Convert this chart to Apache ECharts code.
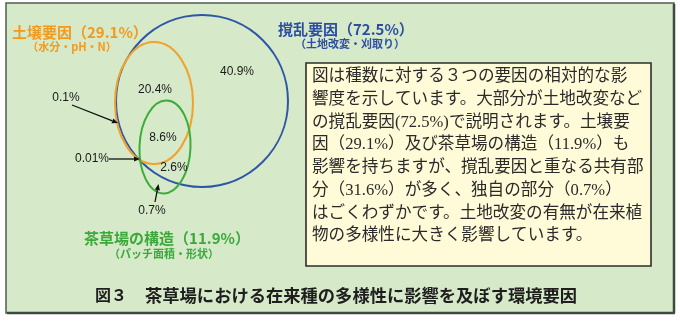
<!DOCTYPE html>
<html>
<head>
<meta charset="utf-8">
<script src="https://cdn.jsdelivr.net/npm/echarts@6/dist/echarts.min.js"></script>
<style>
html,body{margin:0;padding:0;background:#ffffff;}
#chart{width:680px;height:321px;}
</style>
</head>
<body>
<div id="chart"></div>
<script>
// ---- data ----
const factorNames = ['撹乱要因', '土壌要因', '茶草場の構造'];
const factorTotals = [72.5, 29.1, 11.9];
const factorDetails = ['土地改変・刈取り', '水分・pH・N', 'パッチ面積・形状'];
const regionNames = ['撹乱のみ', '撹乱∩土壌', '三要因共有', '撹乱∩構造', '土壌のみ', '土壌∩構造', '構造のみ'];
const regionValues = [40.9, 20.4, 8.6, 2.6, 0.1, 0.01, 0.7];
const noteLines = [
  '図は種数に対する３つの要因の相対的な影',
  '響度を示しています。大部分が土地改変など',
  'の撹乱要因(72.5%)で説明されます。土壌要',
  '因（29.1%）及び茶草場の構造（11.9%）も',
  '影響を持ちますが、撹乱要因と重なる共有部',
  '分（31.6%）が多く、独自の部分（0.7%）',
  'はごくわずかです。土地改変の有無が在来植',
  '物の多様性に大きく影響しています。'
];
const captionNumber = '図３';
const captionTitle = '茶草場における在来種の多様性に影響を及ぼす環境要因';

// ---- layout (positions / styles) ----
const setColors = ['#2e56a6', '#f2a12a', '#3dad3a'];
const setTextColors = ['#2b4fa3', '#f39a1c', '#3aa93a'];
const ellipseGeom = [
  {cx: 202, cy: 101, rx: 86, ry: 86, rot: 0},
  {cx: 154, cy: 103, rx: 39, ry: 61, rot: 0},
  {cx: 165, cy: 147, rx: 25.5, ry: 46.5, rot: -0.04}
];
const titlePos = [
  {x: 278, y: 29, sx: 350, sy: 44, align: 'left'},
  {x: 12, y: 32, sx: 72, sy: 47, align: 'left'},
  {x: 167, y: 238, sx: 164, sy: 254, align: 'center'}
];
const regionLabelPos = [[237, 72], [155, 90], [163, 138], [174, 168], [66, 98], [92, 159], [152, 211]];
const arrowPaths = [
  null, null, null, null,
  [72, 105, 118, 123],
  [109, 159, 140, 159],
  [155, 202, 158.5, 184]
];

const chart = echarts.init(document.getElementById('chart'), null, {renderer: 'canvas'});

function fmtPct(v) { return String(v) + '%'; }

const ellipseData = ellipseGeom.map((g, i) => ({name: factorNames[i], value: [g.cx, g.cy, g.rx, g.ry, g.rot, i]}));
const regionData = regionValues.map((v, i) => ({name: regionNames[i], value: [regionLabelPos[i][0], regionLabelPos[i][1], v]}));
const arrowData = [];
arrowPaths.forEach((a, i) => { if (a) arrowData.push({name: regionNames[i], value: a}); });
const titleData = factorNames.map((n, i) => ({name: n, value: [titlePos[i].x, titlePos[i].y, titlePos[i].sx, titlePos[i].sy, i]}));

const noteGraphics = noteLines.map((t, i) => ({
  type: 'text', z: 20,
  style: {
    text: t, x: 312, y: 77 + i * 22.7,
    fill: '#2a2a2a',
    font: '16.6px "Liberation Serif", "Noto Sans CJK JP", serif',
    textVerticalAlign: 'middle'
  }
}));

const option = {
  animation: false,
  backgroundColor: '#ffffff',
  grid: {left: 0, right: 0, top: 0, bottom: 0},
  xAxis: {type: 'value', min: 0, max: 680, show: false},
  yAxis: {type: 'value', min: 0, max: 321, inverse: true, show: false},
  graphic: [
    {type: 'rect', z: -10, shape: {x: 6, y: 3, width: 668, height: 310}, style: {fill: '#d6e9c9', stroke: '#4e5d4e', lineWidth: 1.5}},
    {type: 'line', z: -9, shape: {x1: 674, y1: 4, x2: 674, y2: 313}, style: {stroke: '#3f4a3f', lineWidth: 2.5}},
    {type: 'line', z: -9, shape: {x1: 7, y1: 313, x2: 675, y2: 313}, style: {stroke: '#3f4a3f', lineWidth: 2.5}},
    {type: 'rect', z: 10, shape: {x: 306, y: 63, width: 345, height: 203}, style: {fill: '#fffbd9', stroke: '#2e2e2a', lineWidth: 1.6}}
  ].concat(noteGraphics).concat([
    {type: 'text', z: 20, style: {text: captionNumber, x: 95, y: 295, fill: '#1e1e1e', font: 'bold 16px "Noto Sans CJK JP", sans-serif', textVerticalAlign: 'middle'}},
    {type: 'text', z: 20, style: {text: captionTitle, x: 145, y: 295, fill: '#1e1e1e', font: 'bold 17.3px "Noto Sans CJK JP", sans-serif', textVerticalAlign: 'middle'}}
  ]),
  series: [
    {
      type: 'custom', name: 'sets', coordinateSystem: 'cartesian2d', data: ellipseData, z: 3,
      renderItem: function (params, api) {
        const c = api.coord([api.value(0), api.value(1)]);
        const s = api.size([api.value(2), api.value(3)]);
        const idx = api.value(5);
        return {
          type: 'ellipse', x: c[0], y: c[1], rotation: api.value(4),
          shape: {cx: 0, cy: 0, rx: s[0], ry: s[1]},
          style: {fill: 'none', stroke: setColors[idx], lineWidth: 2}
        };
      }
    },
    {
      type: 'custom', name: 'regions', coordinateSystem: 'cartesian2d', data: regionData, z: 5,
      renderItem: function (params, api) {
        const c = api.coord([api.value(0), api.value(1)]);
        return {
          type: 'text', x: c[0], y: c[1],
          style: {text: fmtPct(api.value(2)), fill: '#1a1a1a', font: '12px "Liberation Sans", Arial, sans-serif', textAlign: 'center', textVerticalAlign: 'middle'}
        };
      }
    },
    {
      type: 'custom', name: 'arrows', coordinateSystem: 'cartesian2d', data: arrowData, z: 4,
      renderItem: function (params, api) {
        const p1 = api.coord([api.value(0), api.value(1)]);
        const p2 = api.coord([api.value(2), api.value(3)]);
        const dx = p2[0] - p1[0], dy = p2[1] - p1[1];
        const len = Math.sqrt(dx * dx + dy * dy);
        const ux = dx / len, uy = dy / len;
        const hl = 6, hw = 2.6;
        const bx = p2[0] - ux * hl, by = p2[1] - uy * hl;
        return {
          type: 'group',
          children: [
            {type: 'line', shape: {x1: p1[0], y1: p1[1], x2: bx, y2: by}, style: {stroke: '#111111', lineWidth: 1.3}},
            {type: 'polygon', shape: {points: [[p2[0], p2[1]], [bx - uy * hw, by + ux * hw], [bx + uy * hw, by - ux * hw]]}, style: {fill: '#111111'}}
          ]
        };
      }
    },
    {
      type: 'custom', name: 'titles', coordinateSystem: 'cartesian2d', data: titleData, z: 6,
      renderItem: function (params, api) {
        const idx = api.value(4);
        const c = api.coord([api.value(0), api.value(1)]);
        const cs = api.coord([api.value(2), api.value(3)]);
        const al = titlePos[idx].align;
        return {
          type: 'group',
          children: [
            {type: 'text', x: c[0], y: c[1], style: {text: factorNames[idx] + '（' + factorTotals[idx] + '%）', fill: setTextColors[idx], font: 'bold 15px "Noto Sans CJK JP", sans-serif', textAlign: al, textVerticalAlign: 'middle'}},
            {type: 'text', x: cs[0], y: cs[1], style: {text: '（' + factorDetails[idx] + '）', fill: setTextColors[idx], font: 'bold 11px "Noto Sans CJK JP", sans-serif', textAlign: 'center', textVerticalAlign: 'middle'}}
          ]
        };
      }
    }
  ]
};
chart.setOption(option);
</script>
</body>
</html>
